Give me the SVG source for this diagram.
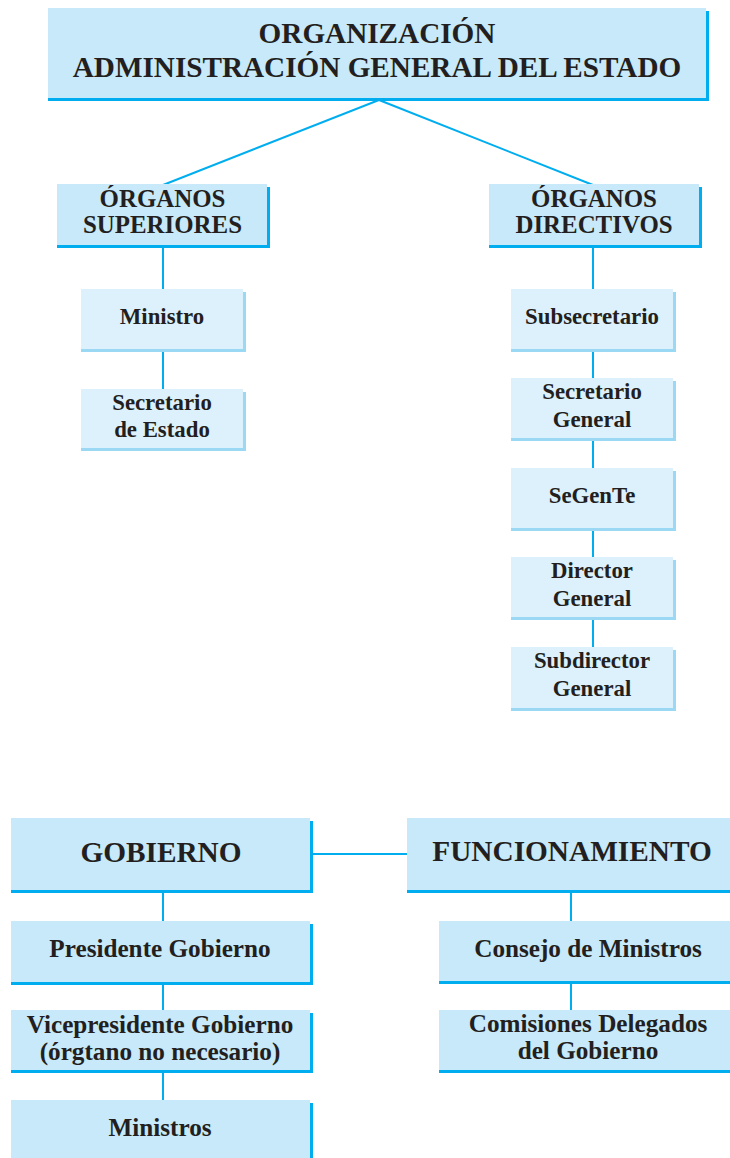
<svg xmlns="http://www.w3.org/2000/svg" width="730" height="1158" viewBox="0 0 730 1158">
<style>
.sh{fill:#00AEEF}
.fl{fill:#C7E9F9}
.sh2{fill:#9BD8F4}
.fl2{fill:#DCF1FC}
.c{stroke:#00AEEF;stroke-width:2;fill:none}
text{font-family:"Liberation Serif","Times New Roman",serif;font-weight:bold;fill:#231F20;text-anchor:middle}
.t1{font-size:29.2px}
.t2{font-size:24.9px}
.t3{font-size:22.8px}
.t4{font-size:29.3px}
.t5{font-size:25.2px}
</style>
<rect width="730" height="1158" fill="#ffffff"/>
<g id="connectors">
<path class="c" d="M379 100 L163 185 M379 100 L593 185"/>
<path class="c" d="M163 247 V289 M163 352 V389"/>
<path class="c" d="M593 247 V289 M593 352 V378 M593 441 V468 M593 531 V557 M593 620 V647"/>
<path class="c" d="M313 854 H407"/>
<path class="c" d="M163 893 V921 M163 985 V1010 M163 1073 V1100"/>
<path class="c" d="M571 893 V921 M571 984 V1010"/>
</g>
<g id="title">
<rect class="sh" x="48" y="11" width="661" height="90"/>
<rect class="fl" x="48" y="8" width="658" height="90"/>
<text class="t1" x="377" y="43">ORGANIZACIÓN</text>
<text class="t1" x="377" y="77">ADMINISTRACIÓN GENERAL DEL ESTADO</text>
</g>
<g id="organos-superiores">
<rect class="sh" x="57" y="187" width="213" height="61"/>
<rect class="fl" x="57" y="184" width="210" height="61"/>
<text class="t2" x="162.5" y="207">ÓRGANOS</text>
<text class="t2" x="162.5" y="233">SUPERIORES</text>
</g>
<g id="organos-directivos">
<rect class="sh" x="489" y="187" width="213" height="61"/>
<rect class="fl" x="489" y="184" width="210" height="61"/>
<text class="t2" x="594" y="207">ÓRGANOS</text>
<text class="t2" x="594" y="233">DIRECTIVOS</text>
</g>
<g id="ministro">
<rect class="sh2" x="81" y="292" width="165" height="60"/>
<rect class="fl2" x="81" y="289" width="162" height="60"/>
<text class="t3" x="162" y="324">Ministro</text>
</g>
<g id="secretario-estado">
<rect class="sh2" x="81" y="392" width="165" height="59"/>
<rect class="fl2" x="81" y="389" width="162" height="59"/>
<text class="t3" x="162" y="410">Secretario</text>
<text class="t3" x="162" y="437">de Estado</text>
</g>
<g id="subsecretario">
<rect class="sh2" x="511" y="292" width="165" height="60"/>
<rect class="fl2" x="511" y="289" width="162" height="60"/>
<text class="t3" x="592" y="324">Subsecretario</text>
</g>
<g id="secretario-general">
<rect class="sh2" x="511" y="381" width="165" height="60"/>
<rect class="fl2" x="511" y="378" width="162" height="60"/>
<text class="t3" x="592" y="399">Secretario</text>
<text class="t3" x="592" y="427">General</text>
</g>
<g id="segente">
<rect class="sh2" x="511" y="471" width="165" height="60"/>
<rect class="fl2" x="511" y="468" width="162" height="60"/>
<text class="t3" x="592" y="503">SeGenTe</text>
</g>
<g id="director-general">
<rect class="sh2" x="511" y="560" width="165" height="60"/>
<rect class="fl2" x="511" y="557" width="162" height="60"/>
<text class="t3" x="592" y="578">Director</text>
<text class="t3" x="592" y="606">General</text>
</g>
<g id="subdirector-general">
<rect class="sh2" x="511" y="650" width="165" height="61"/>
<rect class="fl2" x="511" y="647" width="162" height="61"/>
<text class="t3" x="592" y="668">Subdirector</text>
<text class="t3" x="592" y="696">General</text>
</g>
<g id="gobierno">
<rect class="sh" x="11" y="821" width="302" height="72"/>
<rect class="fl" x="11" y="818" width="299" height="72"/>
<text class="t4" x="161" y="862">GOBIERNO</text>
</g>
<g id="funcionamiento">
<rect class="sh" x="407" y="821" width="333" height="72"/>
<rect class="fl" x="407" y="818" width="330" height="72"/>
<text class="t4" x="572" y="861">FUNCIONAMIENTO</text>
</g>
<g id="presidente">
<rect class="sh" x="11" y="924" width="302" height="61"/>
<rect class="fl" x="11" y="921" width="299" height="61"/>
<text class="t5" x="160" y="957">Presidente Gobierno</text>
</g>
<g id="vicepresidente">
<rect class="sh" x="11" y="1013" width="302" height="60"/>
<rect class="fl" x="11" y="1010" width="299" height="60"/>
<text class="t5" x="160" y="1033">Vicepresidente Gobierno</text>
<text class="t5" x="160" y="1060">(órgtano no necesario)</text>
</g>
<g id="ministros">
<rect class="sh" x="11" y="1103" width="302" height="62"/>
<rect class="fl" x="11" y="1100" width="299" height="62"/>
<text class="t5" x="160" y="1136">Ministros</text>
</g>
<g id="consejo">
<rect class="sh" x="439" y="924" width="303" height="60"/>
<rect class="fl" x="439" y="921" width="300" height="60"/>
<text class="t5" x="588" y="957">Consejo de Ministros</text>
</g>
<g id="comisiones">
<rect class="sh" x="439" y="1013" width="303" height="60"/>
<rect class="fl" x="439" y="1010" width="300" height="60"/>
<text class="t5" x="588" y="1032">Comisiones Delegados</text>
<text class="t5" x="588" y="1059">del Gobierno</text>
</g>
</svg>
